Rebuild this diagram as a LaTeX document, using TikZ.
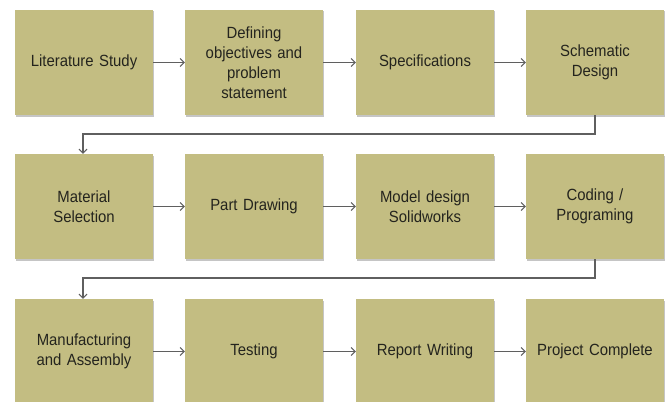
\documentclass[tikz,border=0pt]{standalone}
\usepackage{fontspec}
\setmainfont{Liberation Sans}[FakeStretch=0.92]
\usetikzlibrary{arrows.meta,shadows}
\definecolor{khaki}{RGB}{195,189,130}
\definecolor{linegray}{RGB}{95,95,95}
\definecolor{textgray}{RGB}{36,36,30}
\tikzset{
  x=1pt, y=-1pt,
  stepbox/.style={fill=khaki, minimum width=138pt, minimum height=105pt,
    inner sep=2pt, align=center, text width=128pt, text=textgray,
    font=\fontsize{16.2}{20}\selectfont,
    drop shadow={shadow xshift=1.2pt, shadow yshift=-1.5pt, fill=black!45, opacity=0.5}},
  flow/.style={draw=linegray, line width=1.1pt,
    -{Straight Barb[length=4pt,width=8pt,line width=1pt]}},
}
\begin{document}
\begin{tikzpicture}
\useasboundingbox (0,0) rectangle (668,401);
% first row
\node[stepbox] (lit)  at (84,62.5)  {Literature Study};
\node[stepbox] (obj)  at (254,62.5) {Defining\\objectives and\\problem\\statement};
\node[stepbox] (spec) at (425,62.5) {Specifications};
\node[stepbox] (sch)  at (595,62.5) {Schematic\\Design};
% second row
\node[stepbox] (mat)  at (84,206.5)  {Material\\Selection};
\node[stepbox] (part) at (254,206.5) {Part Drawing};
\node[stepbox] (mod)  at (425,206.5) {Model design\\Solidworks};
\node[stepbox] (code) at (595,206.5) {Coding /\\Programing};
% third row
\node[stepbox] (man)  at (84,351.5)  {Manufacturing\\and Assembly};
\node[stepbox] (test) at (254,351.5) {Testing};
\node[stepbox] (rep)  at (425,351.5) {Report Writing};
\node[stepbox] (done) at (595,351.5) {Project Complete};
% arrows within rows
\draw[flow] (lit) -- (obj);
\draw[flow] (obj) -- (spec);
\draw[flow] (spec) -- (sch);
\draw[flow] (mat) -- (part);
\draw[flow] (part) -- (mod);
\draw[flow] (mod) -- (code);
\draw[flow] (man) -- (test);
\draw[flow] (test) -- (rep);
\draw[flow] (rep) -- (done);
% return lines between rows
\draw[flow] (sch.south) |- (83,134) -- (mat.north -| 83,0);
\draw[flow] (code.south) |- (83,278) -- (man.north -| 83,0);
\end{tikzpicture}
\end{document}
